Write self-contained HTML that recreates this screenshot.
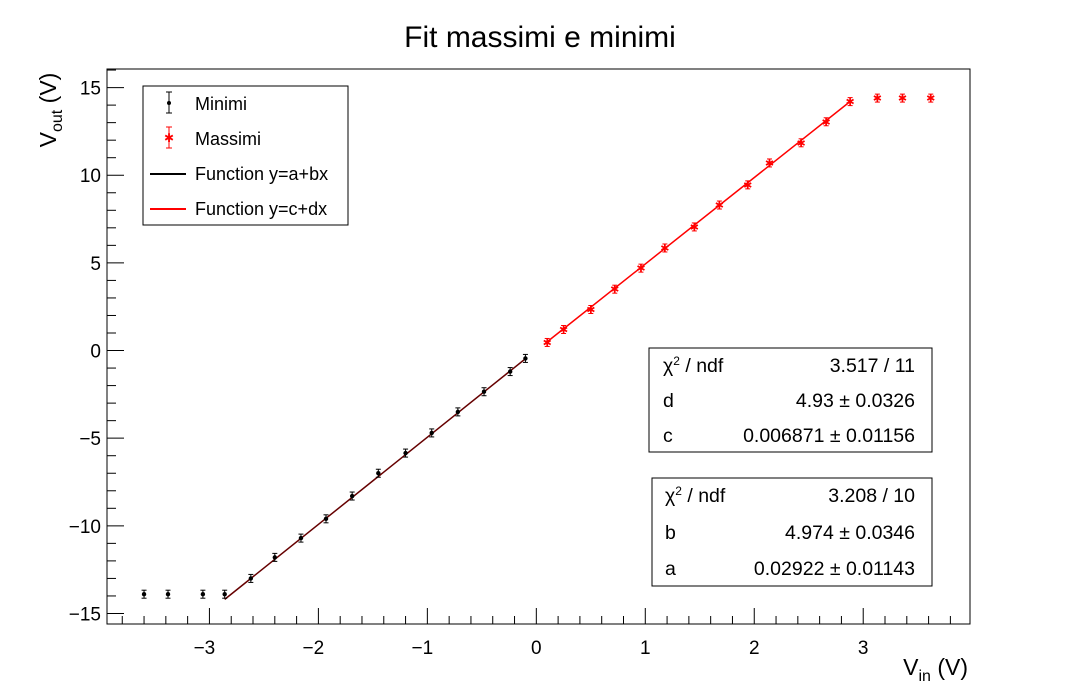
<!DOCTYPE html>
<html><head><meta charset="utf-8"><style>
body{margin:0;background:#fff;}
svg{display:block;font-family:"Liberation Sans",Arial,sans-serif;}
</style></head><body>
<svg id="chart" width="1078" height="695" viewBox="0 0 1078 695">
<text x="540" y="47" font-size="30" text-anchor="middle">Fit massimi e minimi</text>
<g id="axes"></g>
<g id="marks"></g>
<text x="968" y="675" font-size="23" text-anchor="end">V<tspan font-size="16" dy="6">in</tspan><tspan dy="-6"> (V)</tspan></text>
<text transform="translate(56,110) rotate(-90)" font-size="23" text-anchor="middle">V<tspan font-size="16" dy="6">out</tspan><tspan dy="-6"> (V)</tspan></text>
<g>
<rect x="143" y="86" width="205" height="139" fill="#fff" stroke="#000" stroke-width="1"/>
<line x1="169" y1="92" x2="169" y2="113" stroke="#000"/><line x1="166" y1="92" x2="172" y2="92" stroke="#000"/><line x1="166" y1="113" x2="172" y2="113" stroke="#000"/><circle cx="169" cy="103" r="2" fill="#000"/>
<text x="195" y="110" font-size="18">Minimi</text>
<line x1="169" y1="127" x2="169" y2="148" stroke="#f00"/><line x1="166" y1="127" x2="172" y2="127" stroke="#f00"/><line x1="166" y1="148" x2="172" y2="148" stroke="#f00"/><text x="169" y="142" font-size="12" fill="#f00" text-anchor="middle">✱</text>
<text x="195" y="145" font-size="18">Massimi</text>
<line x1="150" y1="174" x2="186" y2="174" stroke="#000" stroke-width="2"/>
<text x="195" y="180" font-size="18">Function y=a+bx</text>
<line x1="150" y1="209" x2="186" y2="209" stroke="#f00" stroke-width="2"/>
<text x="195" y="215" font-size="18">Function y=c+dx</text>
</g>
<g font-size="19.5">
<rect x="649" y="348" width="283" height="104" fill="#fff" stroke="#000"/>
<text x="663" y="372">χ<tspan font-size="12" dy="-7">2</tspan><tspan dy="7"> / ndf</tspan></text><text x="915" y="372" text-anchor="end">3.517 / 11</text>
<text x="663" y="407">d</text><text x="915" y="407" text-anchor="end">4.93 ± 0.0326</text>
<text x="663" y="442">c</text><text x="915" y="442" text-anchor="end">0.006871 ± 0.01156</text>
</g>
<g font-size="19.5">
<rect x="652" y="478" width="280" height="108" fill="#fff" stroke="#000"/>
<text x="665" y="502">χ<tspan font-size="12" dy="-7">2</tspan><tspan dy="7"> / ndf</tspan></text><text x="915" y="502" text-anchor="end">3.208 / 10</text>
<text x="665" y="539">b</text><text x="915" y="539" text-anchor="end">4.974 ± 0.0346</text>
<text x="665" y="575">a</text><text x="915" y="575" text-anchor="end">0.02922 ± 0.01143</text>
</g>
</svg>
<script>
const minX=[-3.6,-3.38,-3.06,-2.86,-2.62,-2.4,-2.16,-1.93,-1.69,-1.45,-1.2,-0.96,-0.72,-0.48,-0.24,-0.1];
const minY=[-13.9,-13.9,-13.9,-13.9,-13.0,-11.8,-10.7,-9.6,-8.3,-7.0,-5.85,-4.7,-3.5,-2.35,-1.2,-0.45];
const maxX=[0.1,0.25,0.5,0.72,0.96,1.18,1.45,1.68,1.94,2.14,2.43,2.66,2.88,3.13,3.36,3.62];
const maxY=[0.46,1.2,2.34,3.5,4.7,5.85,7.05,8.3,9.45,10.7,11.85,13.05,14.2,14.4,14.4,14.4];
const fitAB=[0.02922,4.974], fitAB_range=[-2.86,-0.1];
const fitCD=[0.006871,4.93], fitCD_range=[0.1,2.88];
const xTicks=[-3,-2,-1,0,1,2,3], yTicks=[-15,-10,-5,0,5,10,15];
const X0=107,X1=970,Y0=624,Y1=69,xmin=-3.94,xmax=3.98,ymin=-15.6,ymax=16.06;
const sx=v=>X0+(v-xmin)/(xmax-xmin)*(X1-X0);
const sy=v=>Y0-(v-ymin)/(ymax-ymin)*(Y0-Y1);
const NS="http://www.w3.org/2000/svg";
function mk(t,a,p){const e=document.createElementNS(NS,t);for(const k in a)e.setAttribute(k,a[k]);p.appendChild(e);return e;}
const ax=document.getElementById('axes'), mk_=document.getElementById('marks');
const fr=mk('rect',{x:X0,y:Y1,width:X1-X0,height:Y0-Y1,fill:'none',stroke:'#000','stroke-width':1},ax);


for(let v=-3.8;v<=3.95;v+=0.2){const r=Math.round(v*10)/10;const maj=Math.abs(r-Math.round(r))<1e-6;mk('line',{x1:sx(r),x2:sx(r),y1:Y0,y2:Y0-(maj?16:8),stroke:'#000'},ax);}
for(let v=-15;v<=16;v+=1){const maj=v%5===0;mk('line',{x1:X0,x2:X0+(maj?17:9),y1:sy(v),y2:sy(v),stroke:'#000'},ax);}
xTicks.forEach(v=>{const t=mk('text',{x:sx(v)-(v<0?5:0),y:Y0+30,'font-size':19,'text-anchor':'middle'},ax);t.textContent=v<0?'\u2212'+(-v):v;

});
yTicks.forEach(v=>{const t=mk('text',{x:X0-6,y:sy(v)+7,'font-size':19,'text-anchor':'end'},ax);t.textContent=v<0?'\u2212'+(-v):v;

});
function fit(p,r,c,name){const l=mk('line',{x1:sx(r[0]),y1:sy(p[0]+p[1]*r[0]),x2:sx(r[1]),y2:sy(p[0]+p[1]*r[1]),stroke:c,'stroke-width':1.5},mk_);

}
fit(fitAB,fitAB_range,'#600','fit-line-ab');
fit(fitCD,fitCD_range,'#f00','fit-line-cd');
function pts(xs,ys,c,star,name){xs.forEach((x,i)=>{const g=mk('g',{},mk_);


const px=sx(x),py=sy(ys[i]),e=4;
mk('line',{x1:px,x2:px,y1:py-e,y2:py+e,stroke:c},g);mk('line',{x1:px-2.5,x2:px+2.5,y1:py-e,y2:py-e,stroke:c},g);mk('line',{x1:px-2.5,x2:px+2.5,y1:py+e,y2:py+e,stroke:c},g);
if(star){const t=mk('text',{x:px,y:py+4,'font-size':11,fill:c,'text-anchor':'middle'},g);t.textContent='✱';}else mk('circle',{cx:px,cy:py,r:2.2,fill:c},g);});}
pts(minX,minY,'#000',false,'minimi-point');
pts(maxX,maxY,'#f00',true,'massimi-point');
</script>
</body></html>
